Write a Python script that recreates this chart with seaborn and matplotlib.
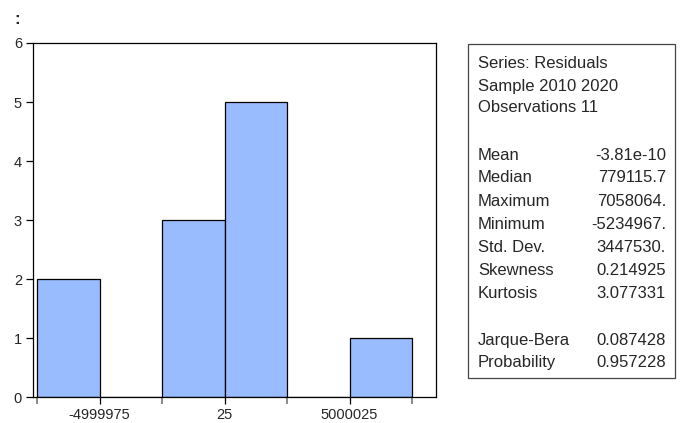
import numpy as np
import pandas as pd
import matplotlib
matplotlib.use("Agg")
import matplotlib.pyplot as plt
import seaborn as sns

# ---- data ----
bin_edges = [-7499975, -4999975, -2499975, 25, 2500025, 5000025, 7500025]
bin_counts = [2, 0, 3, 5, 0, 1]
major_ticks = [-4999975, 25, 5000025]
major_labels = ["-4999975", "25", "5000025"]
minor_ticks = [-7499975, -2499975, 2500025, 7500025]
y_ticks = [0, 1, 2, 3, 4, 5, 6]

header_lines = ["Series: Residuals", "Sample 2010 2020", "Observations 11"]
stat_names = ["Mean", "Median", "Maximum", "Minimum", "Std. Dev.", "Skewness", "Kurtosis"]
stat_values = ["-3.81e-10", "779115.7", "7058064.", "-5234967.", "3447530.", "0.214925", "3.077331"]
test_names = ["Jarque-Bera", "Probability"]
test_values = ["0.087428", "0.957228"]

sns.set_style("white")
plt.rcParams['font.family'] = ['Liberation Sans', 'DejaVu Sans']

W, H = 680, 423
fig = plt.figure(figsize=(W / 100, H / 100), dpi=100)
ax = fig.add_axes([33 / W, 1 - 397 / H, (436 - 33) / W, (397 - 43) / H])

centers = [(bin_edges[i] + bin_edges[i + 1]) / 2 for i in range(len(bin_counts))]
df = pd.DataFrame({"x": centers, "w": bin_counts})
sns.histplot(data=df, x="x", weights="w", bins=bin_edges, ax=ax,
             color="#99BBFF", alpha=1, edgecolor="black", linewidth=0.9)

ax.set_xlim(-7659975, 8460025)
ax.set_ylim(0, 6)
ax.set_xlabel("")
ax.set_ylabel("")
ax.set_yticks(y_ticks)
ax.set_xticks(major_ticks)
ax.set_xticklabels(major_labels)
ax.set_xticks(minor_ticks, minor=True)
ax.tick_params(axis="both", which="major", direction="out", length=5, width=0.9,
               color="black", labelsize=10.5, pad=3, bottom=True, left=True)
ax.tick_params(axis="x", which="major", pad=3)
ax.tick_params(axis="x", which="minor", direction="out", length=5, width=1.2,
               color="#777777", bottom=True)
for s in ax.spines.values():
    s.set_color("black")
    s.set_linewidth(0.9)

fig.text(14 / W, 1 - 19 / H, ":", fontsize=12, fontweight="bold", va="center", ha="left")

# stats box
from matplotlib.patches import Rectangle
fig.patches.append(Rectangle((468 / W, 1 - 378 / H), (675 - 468) / W, (378 - 44) / H,
                             transform=fig.transFigure, fill=False,
                             edgecolor="#444444", linewidth=0.9))

fs = 12
lx, rx = 478, 666
ys = [63, 86, 108]
for t, y in zip(header_lines, ys):
    fig.text(lx / W, 1 - y / H, t, fontsize=fs, va="center", ha="left")
y0 = 155
for i, (n, v) in enumerate(zip(stat_names, stat_values)):
    y = y0 + i * 23
    fig.text(lx / W, 1 - y / H, n, fontsize=fs, va="center", ha="left")
    fig.text(rx / W, 1 - y / H, v, fontsize=fs, va="center", ha="right")
y1 = 340
for i, (n, v) in enumerate(zip(test_names, test_values)):
    y = y1 + i * 22.5
    fig.text(lx / W, 1 - y / H, n, fontsize=fs, va="center", ha="left")
    fig.text(rx / W, 1 - y / H, v, fontsize=fs, va="center", ha="right")

fig.savefig("out.png", dpi=100)
